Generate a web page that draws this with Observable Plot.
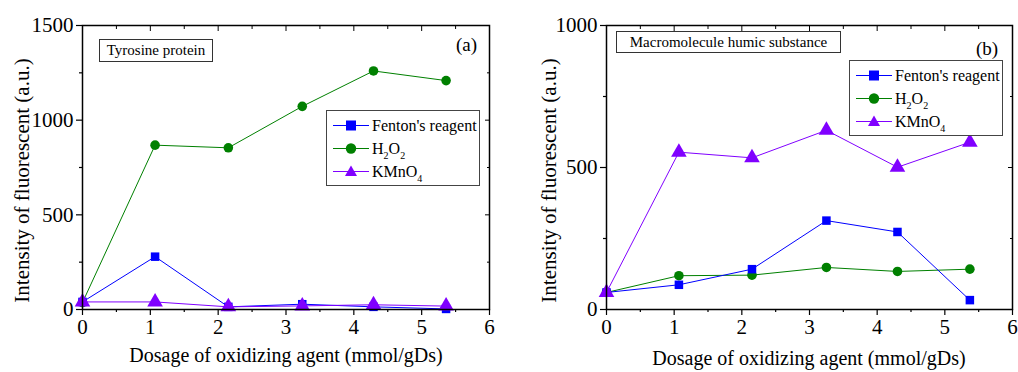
<!DOCTYPE html>
<html><head><meta charset="utf-8">
<script src="https://cdn.jsdelivr.net/npm/d3@7"></script>
<script src="https://cdn.jsdelivr.net/npm/@observablehq/plot@0.6"></script>
<style>
body{margin:0;background:#fff;font-family:"Liberation Serif","Times New Roman",serif;}
#wrap{position:relative;width:1018px;height:372px;overflow:hidden;}
.panel{position:absolute;top:0;}
.abs{position:absolute;white-space:nowrap;color:#000;}
.box{position:absolute;border:1.5px solid #333;background:#fff;}
.leg{position:absolute;border:1.5px solid #444;background:#fff;font-size:16px;}
.row{position:relative;height:23px;line-height:23px;}
.row svg{position:absolute;left:6px;top:0;}
.row span{position:absolute;left:45px;top:0;}
sub{font-size:10px;vertical-align:-5px;line-height:0;}
.ytitle{position:absolute;transform:rotate(-90deg);transform-origin:center;white-space:nowrap;font-size:21px;}
</style></head>
<body><div id="wrap"></div>
<script>
// ---- data ----
const xA = [0, 1.07, 2.15, 3.24, 4.29, 5.36];
const fentonA = [40, 279, 14, 28, 14, 3];
const h2o2A = [37, 868, 854, 1073, 1260, 1209];
const kmno4A = [40, 40, 14, 19, 25, 18];

const xB = [0, 1.07, 2.15, 3.25, 4.3, 5.37];
const fentonB = [60, 87, 142, 313, 273, 33];
const h2o2B = [60, 119, 121, 148, 134, 142];
const kmno4B = [60, 554, 534, 631, 501, 589];

const seriesNames = ["Fenton's reagent", "H2O2", "KMnO4"];
const seriesColors = ["#0000ff", "#008000", "#8000ff"];
const seriesSymbols = ["square", "circle", "triangle"];
const xTicks = [0, 1, 2, 3, 4, 5, 6];
const xMinor = [0.5, 1.5, 2.5, 3.5, 4.5, 5.5];
const yTicksA = [0, 500, 1000, 1500];
const yMinorA = [250, 750, 1250];
const yTicksB = [0, 500, 1000];
const yMinorB = [250, 750];
const xTitle = "Dosage of oxidizing agent (mmol/gDs)";
const yTitle = "Intensity of fluorescent (a.u.)";

function rows(xs, arrs) {
  const out = [];
  arrs.forEach((a, i) => a.forEach((v, j) => out.push({x: xs[j], y: v, s: seriesNames[i]})));
  return out;
}

function panel(data, yDomain, yTicks, yMinor, ml, mr, drawOrder) {
  const marks = [];
  for (const i of drawOrder) {
    const d = data.filter(r => r.s === seriesNames[i]);
    marks.push(Plot.line(d, {x: "x", y: "y", stroke: seriesColors[i], strokeWidth: 1}));
    marks.push(Plot.dot(d, {x: "x", y: "y", symbol: () => seriesSymbols[i], fill: seriesColors[i], stroke: "none",
      r: seriesSymbols[i] === "triangle" ? 5.8 : 4.8}));
  }
  const fmt = d => String(d);
  return Plot.plot({
    width: 509, height: 372,
    marginLeft: ml, marginRight: mr, marginTop: 25, marginBottom: 63,
    style: {fontFamily: "'Liberation Serif', 'Times New Roman', serif", fontSize: "20px", color: "#000", background: "transparent"},
    x: {domain: [0, 6]},
    y: {domain: yDomain},
    symbol: {type: "identity"},
    marks: [
      Plot.axisX({ticks: xTicks, tickSize: 6, tickPadding: 4, label: null, tickFormat: fmt, strokeWidth: 1.2, fontSize: 21}),
      Plot.axisX({ticks: xMinor, tickSize: 3, text: null, label: null, strokeWidth: 1.2}),
      Plot.axisX({anchor: "top", ticks: xTicks, tickSize: 5, dy: 5, text: null, label: null, strokeWidth: 1}),
      Plot.axisX({anchor: "top", ticks: xMinor, tickSize: 3, dy: 3, text: null, label: null, strokeWidth: 1}),
      Plot.axisY({ticks: yTicks, tickSize: 6, tickPadding: 3, label: null, tickFormat: fmt, strokeWidth: 1.2, fontSize: 21}),
      Plot.axisY({ticks: yMinor, tickSize: 3, text: null, label: null, strokeWidth: 1.2}),
      Plot.axisY({anchor: "right", ticks: yTicks, tickSize: 5, dx: -5, text: null, label: null, strokeWidth: 1}),
      Plot.axisY({anchor: "right", ticks: yMinor, tickSize: 3, dx: -3, text: null, label: null, strokeWidth: 1}),
      ...marks,
      Plot.frame({stroke: "#000", strokeWidth: 1.5})
    ]
  });
}

const wrap = document.getElementById("wrap");
function place(el, left) { el.classList.add("panel"); el.style.left = left + "px"; wrap.appendChild(el); }

place(panel(rows(xA, [fentonA, h2o2A, kmno4A]), [0, 1500], yTicksA, yMinorA, 82, 20, [1, 0, 2]), 0);
place(panel(rows(xB, [fentonB, h2o2B, kmno4B]), [0, 1000], yTicksB, yMinorB, 97, 6, [1, 0, 2]), 509);

function legendHTML() {
  const sym = (i) => {
    const c = seriesColors[i];
    let m;
    if (i === 0) m = `<rect x="13" y="6.5" width="10" height="10" fill="${c}"/>`;
    else if (i === 1) m = `<circle cx="18" cy="11.5" r="5.2" fill="${c}"/>`;
    else m = `<path d="M18,5.5 L24,16 L12,16 Z" fill="${c}"/>`;
    return `<svg width="36" height="23"><line x1="0" x2="36" y1="11.5" y2="11.5" stroke="${c}" stroke-width="1"/>${m}</svg>`;
  };
  const labels = ["Fenton's reagent", "H<sub>2</sub>O<sub>2</sub>", "KMnO<sub>4</sub>"];
  return labels.map((l, i) => `<div class="row">${sym(i)}<span>${l}</span></div>`).join("");
}

function add(html) { wrap.insertAdjacentHTML("beforeend", html); }

// panel (a) annotations
add(`<div class="box" style="left:99px;top:39px;width:112px;height:21px;font-size:15px;line-height:21px;text-align:center;">Tyrosine protein</div>`);
add(`<div class="abs" style="left:456px;top:34px;font-size:19px;">(a)</div>`);
add(`<div class="leg" style="left:326px;top:110px;width:154px;height:76px;padding-top:3px;box-sizing:border-box;">${legendHTML()}</div>`);
add(`<div class="abs" style="left:0;width:572px;text-align:center;top:344px;font-size:20px;">${xTitle}</div>`);
add(`<div class="ytitle" style="left:-116px;top:168px;width:276px;text-align:center;">${yTitle}</div>`);

// panel (b) annotations
add(`<div class="box" style="left:616px;top:31px;width:223px;height:20px;font-size:15px;line-height:20px;text-align:center;">Macromolecule humic substance</div>`);
add(`<div class="abs" style="left:976px;top:38px;font-size:19px;">(b)</div>`);
add(`<div class="leg" style="left:849px;top:60px;width:154px;height:76px;padding-top:3px;box-sizing:border-box;">${legendHTML()}</div>`);
add(`<div class="abs" style="left:600px;width:418px;text-align:center;top:347px;font-size:20px;">${xTitle}</div>`);
add(`<div class="ytitle" style="left:411px;top:168px;width:276px;text-align:center;">${yTitle}</div>`);
</script>
</body></html>
